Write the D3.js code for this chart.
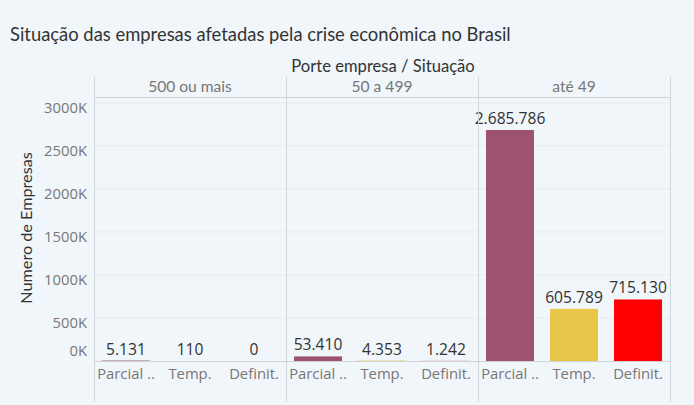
<!DOCTYPE html>
<html><head><meta charset="utf-8">
<script src="https://cdn.jsdelivr.net/npm/d3@7"></script>
<style>
html,body{margin:0;padding:0;background:#f0f6fa;}
svg{display:block;}
</style></head>
<body>
<svg id="chart" width="694" height="405"></svg>
<script>
const title = "Situação das empresas afetadas pela crise econômica no Brasil";
const headerTitle = "Porte empresa / Situação";
const yTitle = "Numero de Empresas";
const groups = ["500 ou mais", "50 a 499", "até 49"];
const situations = ["Parcial ..", "Temp.", "Definit."];
const colors = ["#9c5270", "#e9c54a", "#ff0000"];
const values500 = [5131, 110, 0];
const values50 = [53410, 4353, 1242];
const values49 = [2685786, 605789, 715130];
const yTicks = [0, 500000, 1000000, 1500000, 2000000, 2500000, 3000000];

const allValues = [values500, values50, values49];
const svg = d3.select("#chart");
const font = "Lato, 'Open Sans', sans-serif";
const font2 = "'Open Sans', sans-serif";

const left = 94, right = 670, headerTop = 77, plotTop = 97, baseY = 361, bottom = 402;

const xGroup = d3.scaleBand().domain(groups).range([left, right]).padding(0);
const xSit = d3.scaleBand().domain(situations).range([0, xGroup.bandwidth()])
  .paddingInner(0.25).paddingOuter(0.125);
const y = d3.scaleLinear().domain([0, 3069000]).range([baseY, plotTop]);

// title
svg.append("text").attr("x", 10).attr("y", 41).attr("font-family", font)
  .attr("font-size", 18.4).attr("fill", "#333").text(title);

// header title
svg.append("text").attr("x", 383).attr("y", 72).attr("text-anchor", "middle")
  .attr("font-family", font).attr("font-size", 16.6).attr("fill", "#333").text(headerTitle);

// gridlines
svg.append("g").selectAll("line").data(yTicks.filter(d => d > 0)).join("line")
  .attr("x1", left).attr("x2", right).attr("y1", d => y(d)).attr("y2", d => y(d))
  .attr("stroke", "#e6ecf0").attr("stroke-width", 1);

// y axis labels
const yAxis = d3.axisLeft(y).tickValues(yTicks).tickSize(0).tickPadding(7)
  .tickFormat(d => (d / 1000) + "K");
const yg = svg.append("g").attr("transform", `translate(${left},0)`).call(yAxis);
yg.select(".domain").remove();
yg.selectAll("text").attr("font-family", font2).attr("font-size", 14.8).attr("fill", "#777")
  .attr("dy", d => d === 0 ? "-0.4em" : "0.62em");

// y title
svg.append("text").attr("transform", `translate(32,${228}) rotate(-90)`).attr("text-anchor", "middle")
  .attr("font-family", font).attr("font-size", 16.2).attr("fill", "#333").text(yTitle);

// panels
const g = svg.append("g");
groups.forEach((grp, gi) => {
  const gx = xGroup(grp);
  const pg = g.append("g").attr("transform", `translate(${gx},0)`);
  pg.append("text").attr("x", xGroup.bandwidth() / 2).attr("y", 92).attr("text-anchor", "middle")
    .attr("font-family", font).attr("font-size", 15.6).attr("fill", "#777").text(grp);
  const data = situations.map((s, i) => ({ s, v: allValues[gi][i], c: colors[i] }));
  pg.selectAll("rect").data(data).join("rect")
    .attr("x", d => xSit(d.s)).attr("width", xSit.bandwidth())
    .attr("y", d => y(d.v)).attr("height", d => baseY - y(d.v)).attr("fill", d => d.c);
  pg.selectAll("text.val").data(data).join("text").attr("class", "val")
    .attr("x", d => xSit(d.s) + xSit.bandwidth() / 2)
    .attr("y", d => Math.min(y(d.v) - 6, 355))
    .attr("text-anchor", "middle").attr("font-family", font2).attr("font-size", 15.6)
    .attr("fill", "#333")
    .text(d => d3.format(",")(d.v).replace(/,/g, "."));
  pg.selectAll("text.xl").data(data).join("text").attr("class", "xl")
    .attr("x", d => xSit(d.s) + xSit.bandwidth() / 2).attr("y", 379)
    .attr("text-anchor", "middle").attr("font-family", font2).attr("font-size", 14.8)
    .attr("fill", "#777").text(d => d.s);
});

// borders
const lineColor = "#cfd4d8";
svg.append("line").attr("x1", left).attr("x2", right).attr("y1", plotTop + 0.5).attr("y2", plotTop + 0.5).attr("stroke", lineColor);
svg.append("line").attr("x1", left).attr("x2", right).attr("y1", baseY + 0.5).attr("y2", baseY + 0.5).attr("stroke", lineColor);
const vx = groups.map(gp => xGroup(gp)).concat([right]);
svg.append("g").selectAll("line").data(vx).join("line")
  .attr("x1", d => d + 0.5).attr("x2", d => d + 0.5).attr("y1", headerTop).attr("y2", bottom)
  .attr("stroke", lineColor);
</script>
</body></html>
